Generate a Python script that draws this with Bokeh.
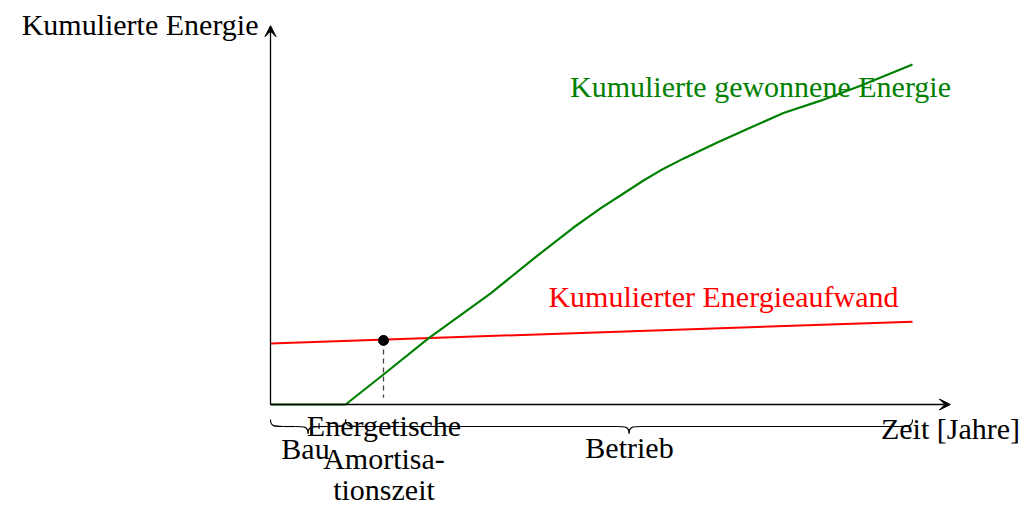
from bokeh.plotting import figure
from bokeh.models import Range1d, Label, Arrow, VeeHead
from bokeh.embed import file_html
from bokeh.resources import INLINE

# ---- data ----
zeit_gewonnen = [0.0, 1.17, 1.76, 2.46, 3.43, 4.10, 4.72, 5.14, 5.45, 5.81, 6.07, 6.43,
                 6.96, 7.48, 7.99, 8.57, 9.19, 10.0]
energie_gewonnen = [0.0, 0.0, 0.88, 1.94, 3.26, 4.28, 5.19, 5.75, 6.13, 6.57, 6.86, 7.21,
                    7.68, 8.12, 8.55, 8.91, 9.35, 9.97]
zeit_aufwand = [0.0, 10.0]
energie_aufwand = [1.79, 2.43]
amortisation_zeit = 1.76
amortisation_energie = 1.88
bau_ende = 1.17
betrieb_ende = 10.0
x_achse_ende = 10.59
y_achse_ende = 11.11

FONT = "Liberation Serif"
FS = "30px"
GREEN = "#008000"
RED = "#ff0000"

W, H = 1024, 509
XS, YS = 64.2, 34.1          # px per data unit
OX, OY = 270, 404            # origin in page px
TXT_SHIFT = 9                # baseline correction in px

p = figure(width=W, height=H, output_backend="svg", toolbar_location=None,
           x_range=Range1d(-OX / XS, (W - OX) / XS),
           y_range=Range1d(-(H - OY) / YS, OY / YS),
           x_axis_type=None, y_axis_type=None, min_border=0)
p.grid.visible = False
p.outline_line_color = None
p.background_fill_color = "white"

def py(v):
    return (OY - v) / YS

def px(v):
    return (v - OX) / XS

# axes with arrows
p.add_layout(Arrow(end=VeeHead(size=11, fill_color="black", line_color="black", line_width=1),
                   x_start=0, y_start=0, x_end=x_achse_ende, y_end=0,
                   line_width=1.3, line_color="black"))
p.add_layout(Arrow(end=VeeHead(size=11, fill_color="black", line_color="black", line_width=1),
                   x_start=0, y_start=0, x_end=0, y_end=y_achse_ende,
                   line_width=1.3, line_color="black"))

# curves
p.line(zeit_aufwand, energie_aufwand, line_color=RED, line_width=2)
p.line(zeit_gewonnen, energie_gewonnen, line_color=GREEN, line_width=2.2, line_join="round")

# amortisation marker
p.segment(x0=[amortisation_zeit], y0=[amortisation_energie], x1=[amortisation_zeit], y1=[0.2],
          line_color="#444444", line_width=1.3, line_dash="5 4")
p.scatter([amortisation_zeit], [amortisation_energie], size=10, color="black")

# braces
def brace(a, b, ytop, ymid, ybot, r):
    m = (a + b) / 2.0
    segs = []
    segs.append((a, ytop, a + r, ymid, a, ymid, a + r * 0.3, ymid))
    segs.append((a + r, ymid, m - r, ymid, a + r, ymid, m - r, ymid))
    segs.append((m - r, ymid, m, ybot, m - r * 0.3, ymid, m, ymid))
    segs.append((m, ybot, m + r, ymid, m, ymid, m + r * 0.3, ymid))
    segs.append((m + r, ymid, b - r, ymid, m + r, ymid, b - r, ymid))
    segs.append((b - r, ymid, b, ytop, b - r * 0.3, ymid, b, ymid))
    cols = list(zip(*segs))
    p.bezier(x0=list(cols[0]), y0=list(cols[1]), x1=list(cols[2]), y1=list(cols[3]),
             cx0=list(cols[4]), cy0=list(cols[5]), cx1=list(cols[6]), cy1=list(cols[7]),
             line_color="black", line_width=1.1)

ytop, ymid, ybot = py(419), py(426), py(433)
brace(0.0, bau_ende, ytop, ymid, ybot, 0.2)
brace(bau_ende, betrieb_ende, ytop, ymid, ybot, 0.2)

# labels
def lab(x, ypix, t, color="black", align="center"):
    p.add_layout(Label(x=px(x), y=py(ypix - TXT_SHIFT), text=t, text_color=color,
                       text_font=FONT, text_font_size=FS, text_align=align,
                       text_baseline="alphabetic"))

lab(258, 33, "Kumulierte Energie", align="right")
lab(760, 95, "Kumulierte gewonnene Energie", color=GREEN)
lab(723, 305, "Kumulierter Energieaufwand", color=RED)
lab(950, 437, "Zeit [Jahre]")
lab(305, 457, "Bau")
lab(629, 456, "Betrieb")
lab(383.5, 434, "Energetische")
lab(383.5, 467, "Amortisa-")
lab(383.5, 498, "tionszeit")

open("out.html", "w").write(file_html(p, INLINE))
